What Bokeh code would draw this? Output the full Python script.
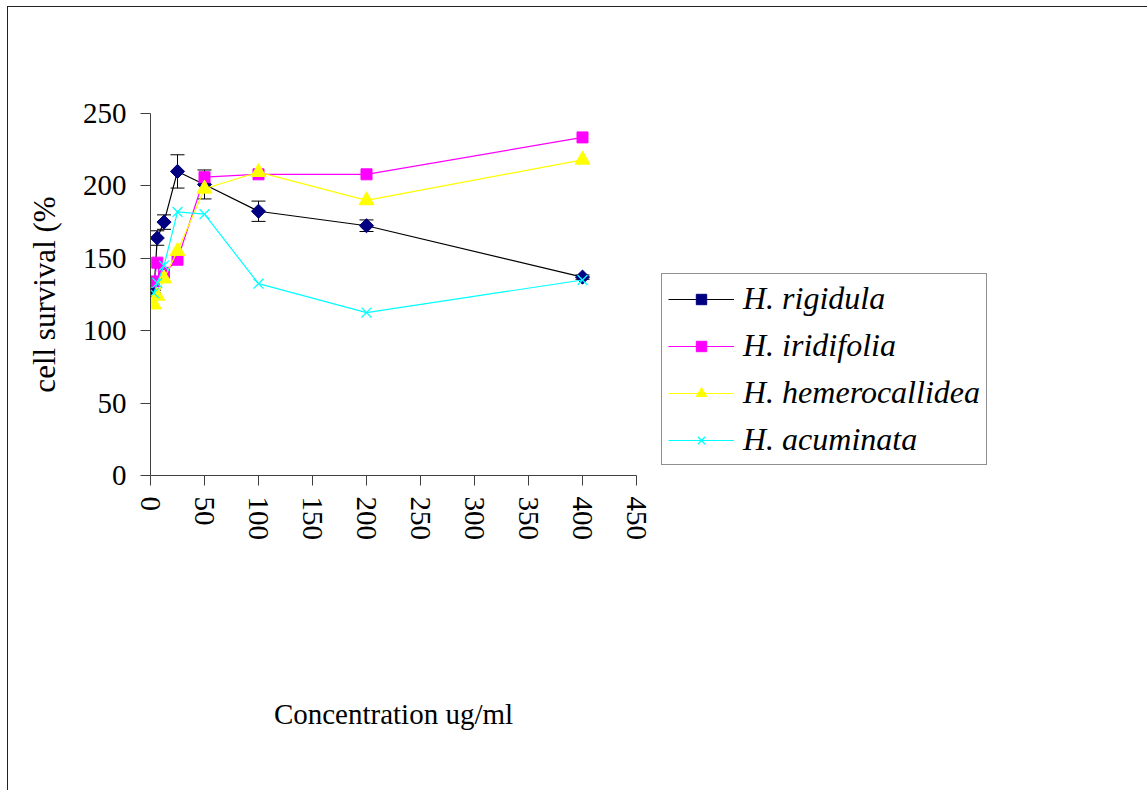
import math
from bokeh.plotting import figure
from bokeh.models import (ColumnDataSource, Whisker, TeeHead, Legend, LegendItem,
                          FixedTicker)
from bokeh.embed import file_html
from bokeh.resources import INLINE

# Concentrations (ug/ml) and cell survival (%) per species
conc = [3.125, 6.25, 12.5, 25, 50, 100, 200, 400]
rigidula = [126, 164, 175, 210, 201, 182.5, 172.5, 137]
rigidula_err = [2, 5, 5, 11.5, 10, 7, 4, 1.5]
iridifolia = [134, 147, 140, 149, 206, 208, 208, 233.5]
hemerocallidea = [118, 124, 136, 155, 198, 209.5, 190, 218]
acuminata = [126, 133, 145, 182, 180.5, 132.5, 112.5, 135]

x_ticks = [0, 50, 100, 150, 200, 250, 300, 350, 400, 450]
y_ticks = [0, 50, 100, 150, 200, 250]

FONT = "Liberation Serif"

# page frame: the figure sits 7px/6px in from the window corner with a rule on
# its left and top edges
p = figure(frame_width=486, frame_height=362, x_range=(0, 450), y_range=(0, 250),
           output_backend="svg", toolbar_location=None,
           min_border_left=142, min_border_top=106,
           min_border_right=0, min_border_bottom=315)
p.styles = {"margin-left": "7px", "margin-top": "6px",
            "border-left": "1.5px solid #222222",
            "border-top": "1.5px solid #222222"}
p.grid.visible = False
p.outline_line_color = None
p.background_fill_color = "white"
p.border_fill_color = "white"

for ax in (p.xaxis[0], p.yaxis[0]):
    ax.axis_line_color = "#404040"
    ax.major_tick_line_color = "#404040"
    ax.major_tick_out = 10
    ax.major_tick_in = 0
    ax.minor_tick_line_color = None
    ax.major_label_text_font = FONT
    ax.major_label_text_font_size = "29px"
    ax.major_label_text_color = "black"
    ax.axis_label_text_font = FONT
    ax.axis_label_text_font_style = "normal"
    ax.axis_label_text_color = "black"

p.xaxis.ticker = FixedTicker(ticks=x_ticks)
p.yaxis.ticker = FixedTicker(ticks=y_ticks)
p.xaxis.major_label_orientation = "vertical"
p.xaxis.major_label_standoff = 11
p.yaxis.major_label_standoff = 14
p.xaxis.axis_label = "Concentration ug/ml"
p.xaxis.axis_label_text_font_size = "29px"
p.xaxis.axis_label_standoff = 155
p.yaxis.axis_label = "cell survival (%"
p.yaxis.axis_label_text_font_size = "31px"
p.yaxis.axis_label_standoff = 18

# error bars for H. rigidula
err_src = ColumnDataSource(dict(
    x=conc,
    upper=[v + e for v, e in zip(rigidula, rigidula_err)],
    lower=[v - e for v, e in zip(rigidula, rigidula_err)],
))
p.add_layout(Whisker(source=err_src, base="x", upper="upper", lower="lower",
                     line_color="black", line_width=1,
                     upper_head=TeeHead(size=14, line_color="black", line_width=1),
                     lower_head=TeeHead(size=14, line_color="black", line_width=1)))

series = [
    ("H. rigidula", rigidula, "black", "#000080", "square", 10, math.pi / 4),
    ("H. iridifolia", iridifolia, "#FF00FF", "#FF00FF", "square", 11, 0),
    ("H. hemerocallidea", hemerocallidea, "#FFFF00", "#FFFF00", "triangle", 15, 0),
    ("H. acuminata", acuminata, "#00FFFF", "#00FFFF", "x", 14, 0),
]

items = []
for label, vals, lcol, mcol, marker, size, ang in series:
    src = ColumnDataSource(dict(x=conc, y=vals))
    lr = p.line("x", "y", source=src, line_color=lcol, line_width=1.2)
    if marker == "x":
        sr = p.scatter("x", "y", source=src, marker=marker, size=size,
                       line_color=mcol, line_width=1.3)
    else:
        sr = p.scatter("x", "y", source=src, marker=marker, size=size, angle=ang,
                       fill_color=mcol, line_color=mcol)
    items.append(LegendItem(label=label, renderers=[lr, sr]))

legend = Legend(items=items, location=(25, 10),
                label_text_font=FONT, label_text_font_size="32px",
                label_text_font_style="italic", label_text_color="black",
                glyph_width=66, glyph_height=26, label_height=26,
                label_standoff=9, spacing=10, padding=6, margin=0,
                border_line_color="#222222", border_line_width=1,
                background_fill_color="white", background_fill_alpha=1)
p.add_layout(legend, "right")

open("out.html", "w").write(file_html(p, INLINE))
